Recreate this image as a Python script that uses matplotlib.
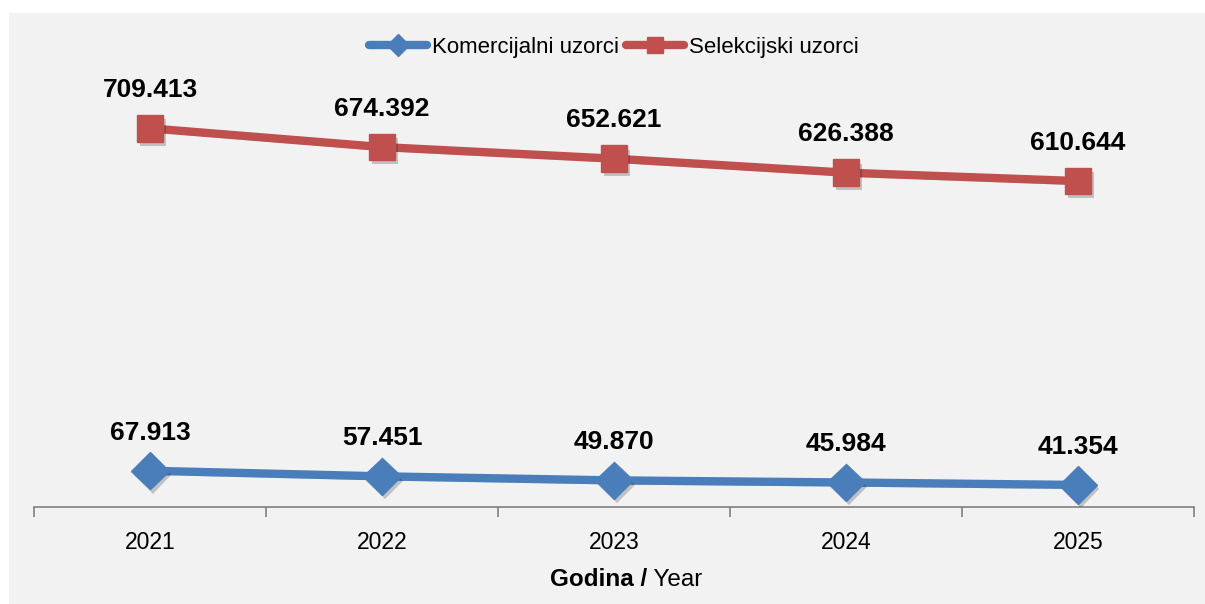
import matplotlib
matplotlib.use("Agg")
import matplotlib.pyplot as plt
import matplotlib.patheffects as pe
from matplotlib.patches import Rectangle

# data
years = ["2021", "2022", "2023", "2024", "2025"]
komercijalni = [67913, 57451, 49870, 45984, 41354]
selekcijski = [709413, 674392, 652621, 626388, 610644]
series_names = ["Komercijalni uzorci", "Selekcijski uzorci"]

BLUE = "#4A7EBB"
RED = "#C0504D"
BG = "#F2F2F2"

plt.rcParams["font.family"] = ["Liberation Sans Narrow", "Liberation Sans", "DejaVu Sans"]

W, H = 1205, 604
fig = plt.figure(figsize=(W / 100, H / 100), dpi=100, facecolor="white")
fig.patches.append(Rectangle((9 / W, 0), 1 - 9 / W, 1 - 13 / H, transform=fig.transFigure,
                             facecolor=BG, edgecolor="none", zorder=-10))

ax = fig.add_axes([34 / W, 1 - 507 / H, (1194 - 34) / W, (507 - 80) / H])
ax.set_facecolor("none")
ax.set_zorder(2)

x = list(range(len(years)))
shadow = [pe.SimplePatchShadow(offset=(2, -3), shadow_rgbFace="#000000", alpha=0.2), pe.Normal()]

l1, = ax.plot(x, komercijalni, color=BLUE, lw=6, marker="D", ms=19, mec=BLUE,
              solid_capstyle="round", label=series_names[0], zorder=3)
l2, = ax.plot(x, selekcijski, color=RED, lw=6, marker="s", ms=19, mec=RED,
              solid_capstyle="round", label=series_names[1], zorder=3)
for ln in (l1, l2):
    ln.set_path_effects(shadow)

for vals in (komercijalni, selekcijski):
    for xi, v in zip(x, vals):
        ax.annotate(f"{v:,}".replace(",", "."), (xi, v), xytext=(0, 22.5), textcoords="offset points",
                    ha="center", va="baseline", fontsize=19, fontweight="bold", color="black")

ax.set_xlim(-0.5, len(years) - 0.5)
ax.set_ylim(0, 800000)
ax.set_yticks([])
for s in ("left", "right", "top"):
    ax.spines[s].set_visible(False)
ax.spines["bottom"].set_color("#808080")
ax.spines["bottom"].set_linewidth(1.2)

ax.set_xticks([i - 0.5 for i in range(len(years) + 1)], minor=False)
ax.set_xticklabels([])
ax.tick_params(axis="x", which="major", length=7, width=1.2, color="#808080")
ax.set_xticks(x, minor=True)
ax.set_xticklabels(years, minor=True, fontsize=16.5)
ax.tick_params(axis="x", which="minor", length=0, pad=17)

leg = ax.legend(handles=[l1, l2], loc="center", bbox_to_anchor=(0.5, (H - 47 - (H - 507)) / (507 - 80)),
                ncol=2, frameon=False, fontsize=16, handlelength=2.6, handletextpad=0.25,
                columnspacing=0.3, markerscale=0.6)
for h in leg.legend_handles:
    h.set_path_effects([])

# axis title: bold part + regular part
fig.canvas.draw()
r = fig.canvas.get_renderer()
t1 = fig.text(0, 1 - 580 / H, "Godina /", fontsize=17.5, fontweight="bold", va="center", ha="left")
t2 = fig.text(0, 1 - 580 / H, " Year", fontsize=17.5, va="center", ha="left")
w1 = t1.get_window_extent(r).width
w2 = t2.get_window_extent(r).width
x0 = 626 - (w1 + w2) / 2
t1.set_x(x0 / W)
t2.set_x((x0 + w1) / W)

fig.savefig("out.png", dpi=100, facecolor="white")
